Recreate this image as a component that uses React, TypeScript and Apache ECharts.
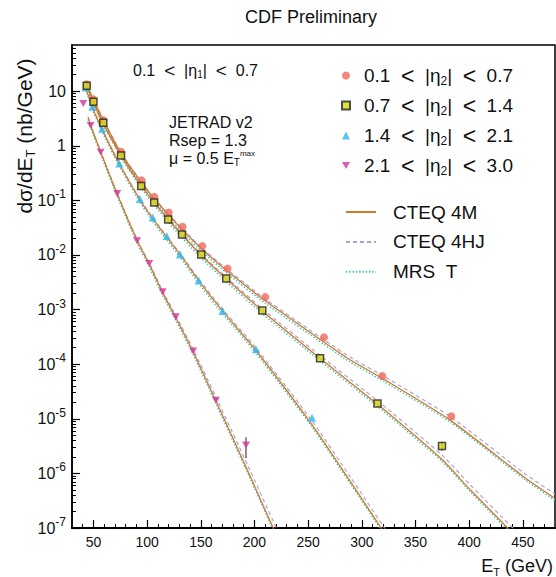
import React, { useEffect, useRef } from 'react';
import * as echarts from 'echarts';

const FONT = '"Liberation Sans", Arial, Helvetica, sans-serif';
const NB2 = '\u00A0\u00A0';

// ---------- measured data points ----------
const ETA2_LABELS = ['0.1 < |η2| < 0.7', '0.7 < |η2| < 1.4', '1.4 < |η2| < 2.1', '2.1 < |η2| < 3.0'];

const E_RED = [43.7, 49.8, 59.2, 75.7, 94.9, 106.7, 120.1, 133.0, 151.4, 174.9, 210.1, 264.8, 319.1, 383.4];
const V_RED = [13.4, 7.1, 2.94, 0.774, 0.232, 0.116, 0.0601, 0.0328, 0.0145, 0.00564, 0.00169, 3.1e-4, 6.07e-5, 1.11e-5];
const E_SQ = [43.7, 50.0, 59.2, 75.7, 94.5, 106.6, 119.6, 132.5, 150.4, 173.7, 207.3, 261.1, 314.6, 374.7];
const V_SQ = [12.5, 6.37, 2.63, 0.665, 0.184, 0.0917, 0.0445, 0.0238, 0.01016, 0.00372, 9.66e-4, 1.29e-4, 1.9e-5, 3.17e-6];
const E_TRI = [42.8, 48.9, 58.0, 74.1, 93.2, 105.2, 118.2, 130.6, 147.9, 170.2, 201.4, 253.6];
const V_TRI = [11.7, 5.16, 2.04, 0.475, 0.106, 0.0483, 0.0222, 0.01023, 0.0034, 9.46e-4, 1.87e-4, 1.05e-5];
const E_INV = [40.5, 47.4, 56.7, 72.2, 90.7, 102.0, 114.5, 126.6, 142.9, 164.2, 192.1];
const V_INV = [5.96, 2.36, 0.764, 0.134, 0.0183, 0.00702, 0.00212, 7.38e-4, 1.74e-4, 2.18e-5, 3.3e-6];

const ERR_E = [192.1, 374.7];
const ERR_LO = [1.9e-6, 2.6e-6];
const ERR_HI = [4.6e-6, 3.8e-6];

// ---------- theory curves ----------
const CURVE_NAMES = ['CTEQ 4M', 'CTEQ 4HJ', 'MRS T'];

const C_E_RED = [44, 50, 60, 76, 95, 107, 120, 133, 152, 175, 210, 265, 289, 320, 382, 452, 480];
const RED_4M = [12.88, 6.918, 2.754, 0.708, 0.2089, 0.1047, 0.0537, 0.02884, 0.0123, 0.005012, 0.001445, 2.512e-4, 1.202e-4, 5.37e-5, 9.55e-6, 8.318e-7, 3.467e-7];
const RED_4HJ = [13.18, 7.079, 2.818, 0.7244, 0.2138, 0.1084, 0.05559, 0.02985, 0.01288, 0.00537, 0.001567, 2.786e-4, 1.349e-4, 6.095e-5, 1.109e-5, 9.886e-7, 4.169e-7];
const RED_MRS = [12.02, 6.457, 2.57, 0.6607, 0.1928, 0.0955, 0.04842, 0.026, 0.01109, 0.004519, 0.001303, 2.291e-4, 1.096e-4, 4.898e-5, 8.81e-6, 7.674e-7, 3.199e-7];

const C_E_SQ = [44, 50, 59, 76, 95, 107, 120, 133, 150, 174, 207, 261, 315, 375, 401, 445];
const SQ_4M = [12.02, 6.166, 2.57, 0.6457, 0.1778, 0.08913, 0.04365, 0.02291, 0.01, 0.003631, 9.55e-4, 1.288e-4, 1.82e-5, 1.778e-6, 5.012e-7, 6.607e-8];
const SQ_4HJ = [12.3, 6.31, 2.63, 0.6607, 0.182, 0.09226, 0.04519, 0.02399, 0.01047, 0.00389, 0.001047, 1.445e-4, 2.113e-5, 2.138e-6, 6.166e-7, 8.222e-8];
const SQ_MRS = [11.22, 5.754, 2.399, 0.6026, 0.1622, 0.08035, 0.0389, 0.02042, 0.008913, 0.003236, 8.511e-4, 1.161e-4, 1.66e-5, 1.641e-6, 4.624e-7, 6.095e-8];

const C_E_TRI = [43, 49, 58, 74, 93, 105, 118, 131, 148, 170, 201, 254, 290, 322];
const TRI_4M = [11.22, 5.012, 1.995, 0.4677, 0.1047, 0.04677, 0.02138, 0.01, 0.003388, 9.55e-4, 1.82e-4, 7.586e-6, 6.761e-7, 7.586e-8];
const TRI_4HJ = [11.48, 5.129, 2.042, 0.4786, 0.1084, 0.04898, 0.02239, 0.01059, 0.003631, 0.001047, 2.042e-4, 8.913e-6, 8.222e-7, 9.441e-8];
const TRI_MRS = [10.47, 4.677, 1.841, 0.4266, 0.09441, 0.04169, 0.01905, 0.008913, 0.00302, 8.511e-4, 1.641e-4, 6.918e-6, 6.237e-7, 6.998e-8];

const C_E_INV = [45, 47.4, 57, 72, 91, 102, 114.5, 127, 143, 164, 192, 222];
const INV_4M = [3.311, 2.344, 0.7413, 0.1318, 0.01778, 0.006761, 0.002042, 6.918e-4, 1.66e-4, 2.138e-5, 1.318e-6, 6.31e-8];
const INV_4HJ = [3.388, 2.399, 0.7586, 0.1365, 0.01862, 0.007161, 0.002188, 7.586e-4, 1.862e-4, 2.512e-5, 1.66e-6, 8.511e-8];
const INV_MRS = [3.02, 2.138, 0.6761, 0.1202, 0.01585, 0.006026, 0.00182, 6.166e-4, 1.479e-4, 1.905e-5, 1.202e-6, 5.754e-8];

// ---------- axis ticks ----------
const X_MAJOR = [50, 100, 150, 200, 250, 300, 350, 400, 450];
const X_MINOR = [40, 60, 70, 80, 90, 110, 120, 130, 140, 160, 170, 180, 190, 210, 220, 230, 240, 260, 270, 280, 290, 310, 320, 330, 340, 360, 370, 380, 390, 410, 420, 430, 440, 460, 470];
const Y_MAJOR = [1e-7, 1e-6, 1e-5, 1e-4, 1e-3, 1e-2, 1e-1, 1, 10];
const Y_MINOR_MANT = [2, 3, 4, 5, 6, 7, 8, 9];

const zip = (xs: number[], ys: number[]) => xs.map((x, i) => [x, ys[i]]);

const richBase = (size: number, lh: number, gap = 0) => ({
  t: { fontSize: size, lineHeight: lh, fontFamily: FONT, color: '#111', fill: '#111' },
  lt: { fontSize: Math.round(size * 1.2), lineHeight: lh, fontFamily: FONT, color: '#111', fill: '#111' },
  s: { fontSize: Math.round(size * 0.62), lineHeight: Math.round(size * 0.6), verticalAlign: 'bottom', fontFamily: FONT, color: '#111', fill: '#111' },
  p: { fontSize: Math.round(size * 0.5), lineHeight: Math.round(size * 0.5), verticalAlign: 'top', fontFamily: FONT, color: '#111', fill: '#111' },
  g: { width: gap, fontSize: size, lineHeight: lh },
});

function etaText(a: string, idx: string, b: string) {
  const [a0] = a.split('<');
  const [, b1] = b.split('<');
  return '{t|' + a0.trim() + NB2 + '}{lt|<}{t|' + NB2 + '|η}{s|' + idx + '}{t||' + NB2 + '}{lt|<}{t|' + NB2 + b1.trim() + '}';
}

function buildOption() {
  const yMinor: number[] = [];
  for (let k = -7; k <= 1; k++) {
    for (const m of Y_MINOR_MANT) {
      const v = m * Math.pow(10, k);
      if (v < 70) yMinor.push(v);
    }
  }

  const curveGroups = [
    { e: C_E_RED, v: [RED_4M, RED_4HJ, RED_MRS] },
    { e: C_E_SQ, v: [SQ_4M, SQ_4HJ, SQ_MRS] },
    { e: C_E_TRI, v: [TRI_4M, TRI_4HJ, TRI_MRS] },
    { e: C_E_INV, v: [INV_4M, INV_4HJ, INV_MRS] },
  ];
  const curveStyles = [
    { color: '#D07A2C', width: 1.3, type: 'solid' as any, z: 4 },
    { color: '#A9A3DC', width: 1.2, type: [4, 3] as any, z: 3 },
    { color: '#25C2AC', width: 1.4, type: [1.3, 2] as any, z: 2 },
  ];

  const series: any[] = [];
  for (let m = 2; m >= 0; m--) {
    for (const g of curveGroups) {
      series.push({
        type: 'line',
        name: CURVE_NAMES[m],
        data: zip(g.e, g.v[m]),
        smooth: 0.2,
        symbol: 'none',
        showSymbol: false,
        z: curveStyles[m].z,
        lineStyle: { color: curveStyles[m].color, width: curveStyles[m].width, type: curveStyles[m].type },
        itemStyle: { color: curveStyles[m].color },
        clip: true,
      });
    }
  }

  series.push({
    type: 'custom',
    name: 'err',
    z: 8,
    data: ERR_E.map((e, i) => [e, ERR_LO[i], ERR_HI[i]]),
    renderItem: (params: any, api: any) => {
      const a = api.coord([api.value(0), api.value(1)]);
      const b = api.coord([api.value(0), api.value(2)]);
      return { type: 'line', shape: { x1: a[0], y1: a[1], x2: b[0], y2: b[1] }, style: { stroke: '#555', lineWidth: 1.3 } };
    },
  });

  series.push(
    { type: 'scatter', name: ETA2_LABELS[0], data: zip(E_RED, V_RED), symbol: 'circle', symbolSize: 8, z: 10, itemStyle: { color: '#EE6A5C' } },
    { type: 'scatter', name: ETA2_LABELS[1], data: zip(E_SQ, V_SQ), symbol: 'rect', symbolSize: 7, z: 12, itemStyle: { color: '#D8D81C', borderColor: '#222', borderWidth: 1.5 } },
    { type: 'scatter', name: ETA2_LABELS[2], data: zip(E_TRI, V_TRI), symbol: 'triangle', symbolSize: 8, z: 11, itemStyle: { color: '#2FB6EE' } },
    { type: 'scatter', name: ETA2_LABELS[3], data: zip(E_INV, V_INV), symbol: 'path://M0,0L10,0L5,8.66Z', symbolKeepAspect: true, symbolSize: 8, z: 11, itemStyle: { color: '#D2359A' } },
  );

  const richLeg1 = richBase(19, 22, 9);
  const richLeg2 = richBase(19, 22, 12);
  const rich16 = richBase(16, 18);

  return {
    animation: false,
    backgroundColor: '#fff',
    grid: { left: 72, right: 1, top: 45, bottom: 49, show: true, borderColor: '#000', borderWidth: 1.5, containLabel: false, outerBoundsMode: 'none' },
    xAxis: [
      {
        type: 'value', min: 30, max: 480, position: 'bottom',
        axisLine: { show: true, onZero: false, lineStyle: { color: '#000', width: 2 } },
        axisTick: { show: true, inside: true, length: 8, customValues: X_MAJOR, lineStyle: { color: '#000', width: 1.2 } },
        axisLabel: { customValues: X_MAJOR, fontSize: 14, fontFamily: FONT, color: '#111', margin: 7 },
        splitLine: { show: false },
      },
      {
        type: 'value', min: 30, max: 480, position: 'bottom',
        axisLine: { show: false },
        axisTick: { show: true, inside: true, length: 4, customValues: X_MINOR, lineStyle: { color: '#000', width: 1 } },
        axisLabel: { show: false },
        splitLine: { show: false },
      },
    ],
    yAxis: [
      {
        type: 'log', logBase: 10, min: 1e-7, max: 70, position: 'left',
        axisLine: { show: true, onZero: false, lineStyle: { color: '#000', width: 1.5 } },
        axisTick: { show: true, inside: true, length: 8, customValues: Y_MAJOR, lineStyle: { color: '#000', width: 1.2 } },
        axisLabel: {
          customValues: Y_MAJOR,
          margin: 6,
          formatter: (v: number) => {
            const k = Math.round(Math.log10(v));
            if (k === 1) return '{b|10}';
            if (k === 0) return '{b|1}';
            return '{b|10}{p|' + k + '}';
          },
          rich: {
            b: { fontSize: 16, lineHeight: 24, fontFamily: FONT, color: '#111' },
            p: { fontSize: 12, lineHeight: 12, verticalAlign: 'top', fontFamily: FONT, color: '#111' },
          },
        },
        splitLine: { show: false },
      },
      {
        type: 'log', logBase: 10, min: 1e-7, max: 70, position: 'left', offset: 0,
        axisLine: { show: false },
        axisTick: { show: true, inside: true, length: 4, customValues: yMinor, lineStyle: { color: '#000', width: 1 } },
        axisLabel: { show: false },
        splitLine: { show: false },
      },
    ],
    legend: [
      {
        data: ETA2_LABELS,
        orient: 'vertical',
        left: 336,
        top: 59,
        itemWidth: 8,
        itemHeight: 8,
        itemGap: 7,
        selectedMode: false,
        formatter: (name: string) => {
          const [a, b] = name.split('η2');
          return '{g| }' + etaText(a, '2', b);
        },
        textStyle: { rich: richLeg1, fontFamily: FONT },
      },
      {
        data: CURVE_NAMES,
        orient: 'vertical',
        left: 340,
        top: 197.5,
        itemWidth: 30,
        itemHeight: 10,
        itemGap: 10.9,
        selectedMode: false,
        itemStyle: { opacity: 0 },
        formatter: (name: string) => '{g| }{t|' + (name === 'MRS T' ? 'MRS' + NB2 + 'T' : name) + '}',
        textStyle: { rich: richLeg2, fontFamily: FONT },
      },
    ],
    graphic: [
      {
        type: 'text', x: 311, y: 17,
        style: { text: 'CDF Preliminary', font: '18px ' + FONT, fill: '#111', align: 'center', verticalAlign: 'middle', textAlign: 'center', textVerticalAlign: 'middle' },
      },
      {
        type: 'text', x: 24, y: 136, rotation: Math.PI / 2,
        style: { text: '{t|dσ/dE}{s|T}{t| (nb/GeV)}', rich: richBase(21, 26), fill: '#111', align: 'center', verticalAlign: 'middle', textAlign: 'center', textVerticalAlign: 'middle' },
      },
      {
        type: 'text', x: 553, y: 566,
        style: { text: '{t|E}{s|T}{t| (GeV)}', rich: richBase(18, 22), fill: '#111', align: 'right', verticalAlign: 'middle', textAlign: 'right', textVerticalAlign: 'middle' },
      },
      {
        type: 'text', x: 133, y: 70,
        style: { text: etaText('0.1 < |', '1', '| < 0.7'), rich: rich16, fill: '#111', align: 'left', verticalAlign: 'middle', textAlign: 'left', textVerticalAlign: 'middle' },
      },
      {
        type: 'text', x: 169, y: 122,
        style: { text: '{t|JETRAD v2}', rich: rich16, fill: '#111', align: 'left', verticalAlign: 'middle', textAlign: 'left', textVerticalAlign: 'middle' },
      },
      {
        type: 'text', x: 169, y: 140,
        style: { text: '{t|Rsep = 1.3}', rich: rich16, fill: '#111', align: 'left', verticalAlign: 'middle', textAlign: 'left', textVerticalAlign: 'middle' },
      },
      {
        type: 'text', x: 169, y: 158,
        style: { text: '{t|μ = 0.5 E}{s|T}{p|max}', rich: rich16, fill: '#111', align: 'left', verticalAlign: 'middle', textAlign: 'left', textVerticalAlign: 'middle' },
      },
    ],
    series,
  };
}

export default function App() {
  const ref = useRef<HTMLDivElement>(null);
  useEffect(() => {
    document.body.style.margin = '0';
    const chart = echarts.init(ref.current!, null, { renderer: 'svg' });
    chart.setOption(buildOption() as any);
    return () => chart.dispose();
  }, []);
  return <div ref={ref} style={{ width: 556, height: 577, position: 'absolute', left: 0, top: 0, background: '#fff' }} />;
}
